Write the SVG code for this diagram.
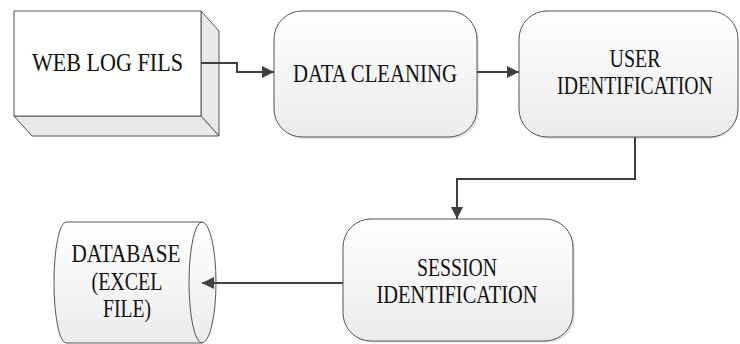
<svg xmlns="http://www.w3.org/2000/svg" width="740" height="344" viewBox="0 0 740 344">
  <defs>
    <linearGradient id="g" x1="0" y1="0" x2="0" y2="1">
      <stop offset="0" stop-color="#ffffff"/>
      <stop offset="1" stop-color="#ebebeb"/>
    </linearGradient>
    <marker id="ah" markerUnits="userSpaceOnUse" markerWidth="14" markerHeight="14" refX="12" refY="6" orient="auto">
      <path d="M0,0 L12,6 L0,12 Z" fill="#404040"/>
    </marker>
    <style>
      .node { stroke: #555555; stroke-width: 1; }
      .box { fill: url(#g); }
      .shadow { fill: #e4e4e4; stroke: none; }
      .side { fill: #e8e8e8; }
      .front { fill: #ffffff; }
      .lbl { font-family: "Liberation Serif", "Times New Roman", serif; font-size: 26px; fill: #111111; text-anchor: middle; }
      .conn { fill: none; stroke: #404040; stroke-width: 2; marker-end: url(#ah); }
    </style>
  </defs>

  <g id="web-log-fils">
    <polygon class="node side" points="201,11 219,31 219,136 201,116"/>
    <polygon class="node side" points="14,116 201,116 219,136 32,136"/>
    <rect class="node front" x="14" y="11" width="187" height="105"/>
    <text class="lbl" x="107.5" y="71" textLength="151" lengthAdjust="spacingAndGlyphs">WEB LOG FILS</text>
  </g>

  <g id="data-cleaning">
    <rect class="shadow" x="276" y="13" width="203" height="126" rx="28"/>
    <rect class="node box" x="274" y="11" width="203" height="126" rx="28"/>
    <text class="lbl" x="375" y="82" textLength="164" lengthAdjust="spacingAndGlyphs">DATA CLEANING</text>
  </g>

  <g id="user-identification">
    <rect class="shadow" x="521" y="13" width="217" height="126" rx="28"/>
    <rect class="node box" x="519" y="11" width="219" height="126" rx="28"/>
    <text class="lbl" x="635" y="67" textLength="51" lengthAdjust="spacingAndGlyphs">USER</text>
    <text class="lbl" transform="translate(635,94) scale(0.76,1)" x="0" y="0">IDENTIFICATION</text>
  </g>

  <g id="session-identification">
    <rect class="shadow" x="345" y="221" width="230" height="122" rx="28"/>
    <rect class="node box" x="343" y="219" width="230" height="122" rx="28"/>
    <text class="lbl" x="457" y="276" textLength="80" lengthAdjust="spacingAndGlyphs">SESSION</text>
    <text class="lbl" x="457" y="303" textLength="161" lengthAdjust="spacingAndGlyphs">IDENTIFICATION</text>
  </g>

  <g id="database">
    <path class="node box" d="M66,222 H202 A14,60.5 0 0 1 202,343 H66 A12,60.5 0 0 1 66,222 Z"/>
    <path class="node" fill="none" d="M202,222 A13,60.5 0 0 0 202,343"/>
    <text class="lbl" x="126" y="262" textLength="109" lengthAdjust="spacingAndGlyphs">DATABASE</text>
    <text class="lbl" x="127" y="290" textLength="71" lengthAdjust="spacingAndGlyphs">(EXCEL</text>
    <text class="lbl" x="127" y="317" textLength="48" lengthAdjust="spacingAndGlyphs">FILE)</text>
  </g>

  <g id="connectors">
    <path class="conn" d="M201,63 H237 V72 H274"/>
    <path class="conn" d="M477,72 H519"/>
    <path class="conn" d="M635,137 V179 H457 V219"/>
    <path class="conn" d="M343,283 H202"/>
  </g>
</svg>
